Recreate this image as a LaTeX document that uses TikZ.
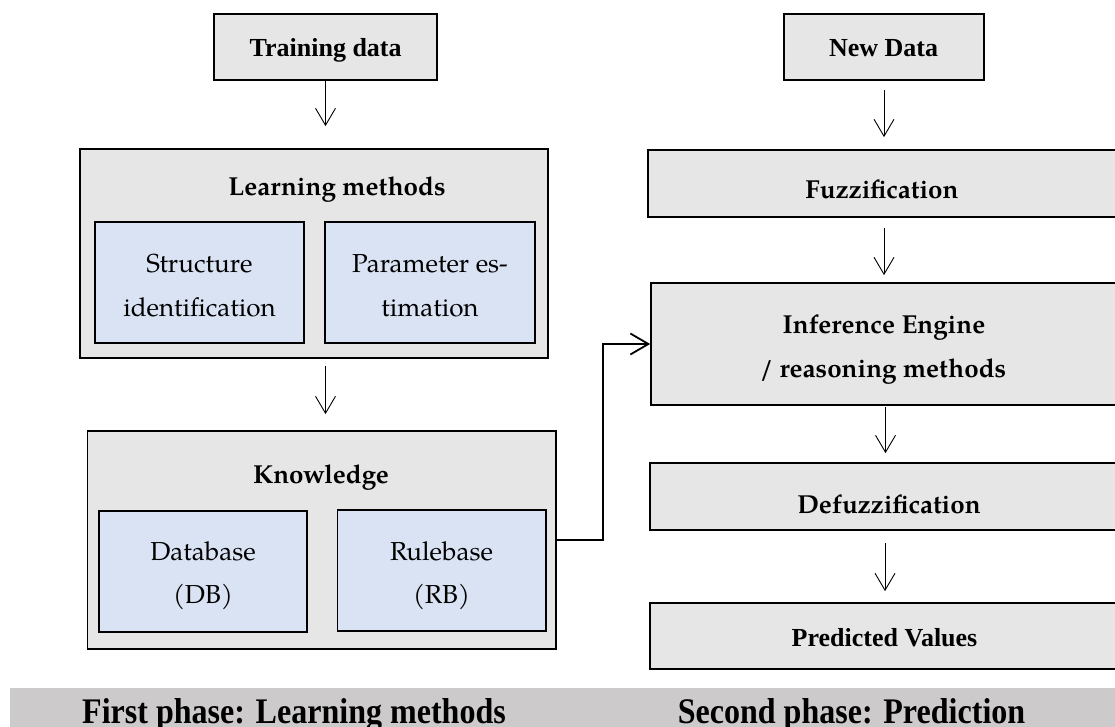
\documentclass[tikz,border=0pt]{standalone}
\usepackage{fontspec}
\setmainfont{Liberation Serif}
\newfontfamily\palfont{texgyrepagella}[Extension=.otf,UprightFont=*-regular,BoldFont=*-bold]
\usetikzlibrary{arrows.meta}
\definecolor{boxgray}{HTML}{E6E6E6}
\definecolor{boxblue}{HTML}{DAE3F3}
\definecolor{bandgray}{HTML}{CDCACB}
\begin{document}
\begin{tikzpicture}[x=1pt,y=-1pt,
  box/.style={draw=black,line width=1.7pt,fill=boxgray,inner sep=0pt,rectangle},
  ibox/.style={box,fill=boxblue},
  flow/.style={line width=0.9pt,-{Straight Barb[length=17pt,width=20pt]}},
  conn/.style={line width=1.8pt,-{Straight Barb[length=18pt,width=21pt]}},
  ttl/.style={anchor=base,inner sep=0pt,font=\fontsize{26}{44}\selectfont\bfseries},
  ptl/.style={anchor=base,inner sep=0pt,font=\palfont\fontsize{26}{44}\selectfont\bfseries},
  ptx/.style={anchor=base,inner sep=0pt,font=\palfont\fontsize{26}{44}\selectfont},
  bandtxt/.style={anchor=base,inner sep=0pt,font=\fontsize{36}{40}\selectfont\bfseries},
  ]
\useasboundingbox (0,0) rectangle (1115,727);
% left column
\node[box,minimum width=223pt,minimum height=66pt] (train) at (325.5,47) {};
\node[box,minimum width=468pt,minimum height=209pt] (learn) at (314,253.5) {};
\node[ibox,minimum width=209pt,minimum height=121pt] (struct) at (199.5,282.5) {};
\node[ibox,minimum width=210pt,minimum height=121pt] (param) at (430,282.5) {};
\node[box,minimum width=468.5pt,minimum height=218pt] (know) at (321.75,540) {};
\node[ibox,minimum width=208pt,minimum height=121pt] (db) at (203,571.5) {};
\node[ibox,minimum width=208.5pt,minimum height=121pt] (rb) at (441.75,570.5) {};
% right column
\node[box,minimum width=200pt,minimum height=66pt] (newd) at (884,47) {};
\node[box,minimum width=472pt,minimum height=67pt] (fuzz) at (884,183.5) {};
\node[box,minimum width=469pt,minimum height=122pt] (inf) at (885.5,344) {};
\node[box,minimum width=470pt,minimum height=67pt] (defz) at (885,496.5) {};
\node[box,minimum width=470pt,minimum height=66pt] (pred) at (885,636) {};
% texts
\node[ttl] (trainT) at (325.7,57) {Training data};
\node[ptl] (learnT) at (337,196) {Learning methods};
\node[ptx] (structA) at (199.5,272) {Structure};
\node[ptx] (structB) at (199.5,316) {identification};
\node[ptx] (paramA) at (430,272) {Parameter es-};
\node[ptx] (paramB) at (430,316) {timation};
\node[ptl] (knowT) at (321,483) {Knowledge};
\node[ptx] (dbA) at (203,560) {Database};
\node[ptx] (dbB) at (203,603) {(DB)};
\node[ptx] (rbA) at (441.5,560) {Rulebase};
\node[ptx] (rbB) at (441.5,603) {(RB)};
\node[ttl] (newT) at (883.5,57) {New Data};
\node[ptl] (fuzzT) at (882,199) {Fuzzification};
\node[ptl] (infA) at (884,333) {Inference Engine};
\node[ptl] (infB) at (883,377) {/ reasoning methods};
\node[ptl] (defT) at (889,513) {Defuzzification};
\node[ttl] (predT) at (884.5,646) {Predicted Values};
% arrows
\draw[flow,shorten <=0pt,shorten >=22pt] (train.south) -- (train.south |- learn.north);
\draw[flow,shorten <=7pt,shorten >=16pt] (train.south |- learn.south) -- (train.south |- know.north);
\draw[flow,shorten <=9pt,shorten >=12pt] (newd.south) -- (newd.south |- fuzz.north);
\draw[flow,shorten <=10pt,shorten >=7pt] (fuzz.south) -- (fuzz.south |- inf.north);
\draw[flow,shorten <=1pt,shorten >=9pt] (inf.south) -- (inf.south |- defz.north);
\draw[flow,shorten <=12pt,shorten >=11pt] (defz.south) -- (defz.south |- pred.north);
\draw[conn] (know.east) -- ++(46,0) |- (inf.west);
% bottom band
\fill[bandgray] (10,688) rectangle (1115,727);
\node[bandtxt] (phase1) at (294,723) {\scalebox{0.89}[1]{First phase: Learning methods}};
\node[bandtxt] (phase2) at (851.5,723) {\scalebox{0.89}[1]{Second phase: Prediction}};
\end{tikzpicture}
\end{document}
